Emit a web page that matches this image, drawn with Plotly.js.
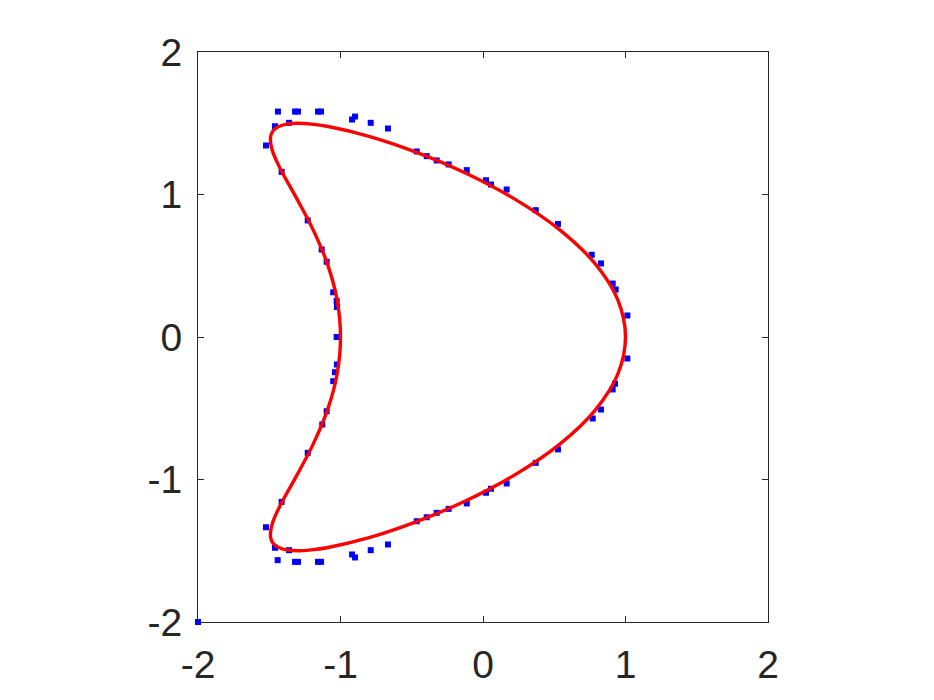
<!DOCTYPE html>
<html>
<head>
<meta charset="utf-8">
<script src="https://cdn.plot.ly/plotly-3.0.1.min.js"></script>
<style>html,body{margin:0;padding:0;background:#fff;}#chart{width:934px;height:700px;}</style>
</head>
<body>
<div id="chart"></div>
<script>
var pointsX = [
  -1.439, -1.319, -1.298, -1.158, -1.137, -0.919, -0.898, -0.788, -0.667,
  -1.460, -1.361, -1.523, -1.413,
  -0.465, -0.395, -0.325, -0.241, -0.114, 0.021, 0.056, 0.166, 0.370, 0.526,
  0.763, 0.828, 0.910, 0.931, 1.013,
  -1.230, -1.132, -1.097, -1.051, -1.027, -1.025, -1.027,
  -1.441, -1.319, -1.298, -1.158, -1.137, -0.919, -0.898, -0.788, -0.667,
  -1.460, -1.361, -1.523, -1.413,
  -0.465, -0.395, -0.325, -0.241, -0.114, 0.021, 0.056, 0.166, 0.370, 0.526,
  0.770, 0.828, 0.910, 0.926, 1.013,
  -1.230, -1.128, -1.097, -1.051, -1.039, -1.025,
  -2.0
];
var pointsY = [
  1.582, 1.582, 1.582, 1.582, 1.582, 1.526, 1.547, 1.503, 1.463,
  1.479, 1.503, 1.344, 1.159,
  1.302, 1.269, 1.239, 1.211, 1.171, 1.100, 1.070, 1.035, 0.890, 0.793,
  0.577, 0.516, 0.375, 0.333, 0.151,
  0.818, 0.614, 0.528, 0.314, 0.253, 0.211, 0.000,
  -1.566, -1.578, -1.578, -1.578, -1.578, -1.526, -1.547, -1.496, -1.456,
  -1.479, -1.496, -1.335, -1.157,
  -1.293, -1.265, -1.234, -1.206, -1.168, -1.093, -1.065, -1.028, -0.883, -0.789,
  -0.572, -0.509, -0.368, -0.328, -0.151,
  -0.813, -0.614, -0.521, -0.310, -0.247, -0.193,
  -2.0
];

// Red boundary curve
var curveX = [
  1.000, 0.946, 0.788, 0.541, 0.229, -0.120, -0.475, -0.806, -1.087, -1.203,
  -1.300, -1.377, -1.434, -1.472, -1.490, -1.490, -1.475, -1.446, -1.406,
  -1.303, -1.191, -1.092, -1.024, -1.000,
  -1.024, -1.092, -1.191, -1.303, -1.406, -1.446, -1.475, -1.490, -1.490,
  -1.472, -1.434, -1.377, -1.300, -1.203, -1.087, -0.806, -0.475, -0.120,
  0.229, 0.541, 0.788, 0.946, 1.000
];
var curveY = [
  0.000, 0.261, 0.513, 0.750, 0.964, 1.149, 1.299, 1.410, 1.477, 1.494,
  1.500, 1.494, 1.477, 1.449, 1.410, 1.360, 1.299, 1.229, 1.149,
  0.964, 0.750, 0.513, 0.261, 0.000,
  -0.261, -0.513, -0.750, -0.964, -1.149, -1.229, -1.299, -1.360, -1.410,
  -1.449, -1.477, -1.494, -1.500, -1.494, -1.477, -1.410, -1.299, -1.149,
  -0.964, -0.750, -0.513, -0.261, 0.000
];

var tickVals = [-2, -1, 0, 1, 2];
var tickText = ['-2', '-1', '0', '1', '2'];

function makeAxis(standoff) {
  return {
    range: [-2, 2],
    tickvals: tickVals,
    ticktext: tickText,
    ticks: 'inside',
    ticklen: 6,
    tickwidth: 1,
    tickcolor: '#262626',
    showline: true,
    linecolor: '#262626',
    linewidth: 1,
    mirror: 'ticks',
    showgrid: false,
    zeroline: false,
    layer: 'below traces',
    ticklabelstandoff: standoff,
    tickfont: {family: 'Liberation Sans, Arial, sans-serif', size: 39, color: '#262626'}
  };
}

var data = [
  {
    x: pointsX, y: pointsY, type: 'scatter', mode: 'markers',
    marker: {symbol: 'square', size: 6, color: '#0000ff'},
    cliponaxis: false, hoverinfo: 'skip', showlegend: false
  },
  {
    x: curveX, y: curveY, type: 'scatter', mode: 'lines',
    line: {color: '#ff0000', width: 3.4, shape: 'spline', smoothing: 1},
    hoverinfo: 'skip', showlegend: false
  }
];

var layout = {
  width: 934, height: 700,
  margin: {l: 198, r: 166, t: 52, b: 78, pad: 0},
  paper_bgcolor: '#ffffff', plot_bgcolor: '#ffffff',
  xaxis: makeAxis(8),
  yaxis: makeAxis(7),
  showlegend: false
};

Plotly.newPlot('chart', data, layout, {staticPlot: true, displayModeBar: false});
</script>
</body>
</html>
